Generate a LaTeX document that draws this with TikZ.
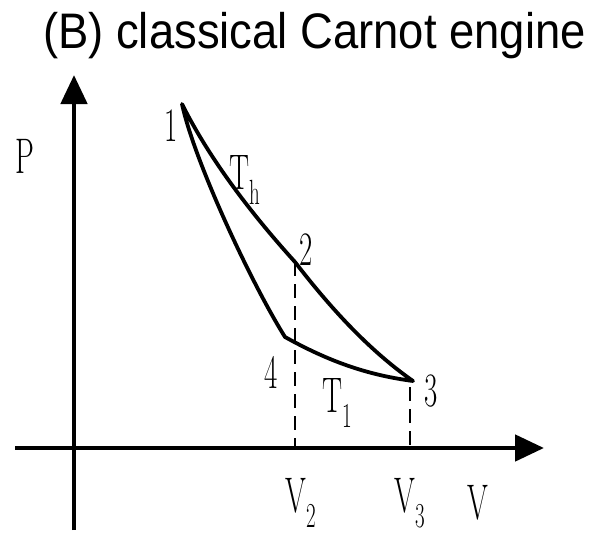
\documentclass[tikz,border=0pt]{standalone}
\usepackage{fontspec}
\newfontfamily\titlefont{Liberation Sans}
\usetikzlibrary{arrows.meta}
\newcommand{\cndlab}[1]{\scalebox{0.6}[1]{#1}}
\begin{document}
\begin{tikzpicture}[x=1pt,y=-1pt,
  axis/.style={line width=4.8pt,-{Triangle[length=29pt,width=26pt]}},
  cyc/.style={line width=3.8pt,line join=round},
  guide/.style={line width=1.3pt,dash pattern=on 14pt off 8pt},
  lab/.style={inner sep=0pt,font=\fontsize{50}{50}\selectfont},
  dig/.style={inner sep=0pt,font=\fontsize{48}{48}\selectfont}]
\useasboundingbox (0,0) rectangle (590,533);
% title
\node[inner sep=0pt,anchor=base west] (title) at (43,48)
  {\scalebox{1}[1.1]{\titlefont\fontsize{45.4}{50}\selectfont (B) classical Carnot engine}};
% axes
\coordinate (o1) at (74,530);
\coordinate (yt) at (74,75);
\coordinate (o2) at (15,448);
\coordinate (xt) at (544,448);
\draw[axis] (o1) -- (yt);
\draw[axis] (o2) -- (xt);
% cycle points
\coordinate (p1) at (182,104);
\coordinate (p2) at (295,262);
\coordinate (p3) at (413,381);
\coordinate (p4) at (285,337);
\coordinate (b2) at (295,448);
\coordinate (b3) at (410,448);
\coordinate (t3) at (410,387);
% dashed guides
\draw[guide] (p2) -- (b2);
\draw[guide] (t3) -- (b3);
% cycle
\draw[cyc] (p1) .. controls (212,164) and (257,220) .. (p2)
  .. controls (335,314) and (373,353) .. (p3)
  .. controls (368,375) and (330,362) .. (p4)
  .. controls (250,281) and (194,160) .. cycle;
% labels
\node[lab] (P) at (25,156) {\cndlab{P}};
\node[dig] (l1) at (171,126) {\cndlab{1}};
\node[dig] (l2) at (306,250) {\cndlab{2}};
\node[dig] (l3) at (431,391) {\cndlab{3}};
\node[dig] (l4) at (271,372) {\cndlab{4}};
\node[lab] (Th) at (245,180) {\cndlab{$\mathrm{T_h}$}};
\node[lab] (Tl) at (337,403) {\cndlab{$\mathrm{T_1}$}};
\node[lab] (V2) at (301,503) {\cndlab{$\mathrm{V_2}$}};
\node[lab] (V3) at (410,503) {\cndlab{$\mathrm{V_3}$}};
\node[lab] (V) at (478,503) {\cndlab{V}};
\end{tikzpicture}
\end{document}
